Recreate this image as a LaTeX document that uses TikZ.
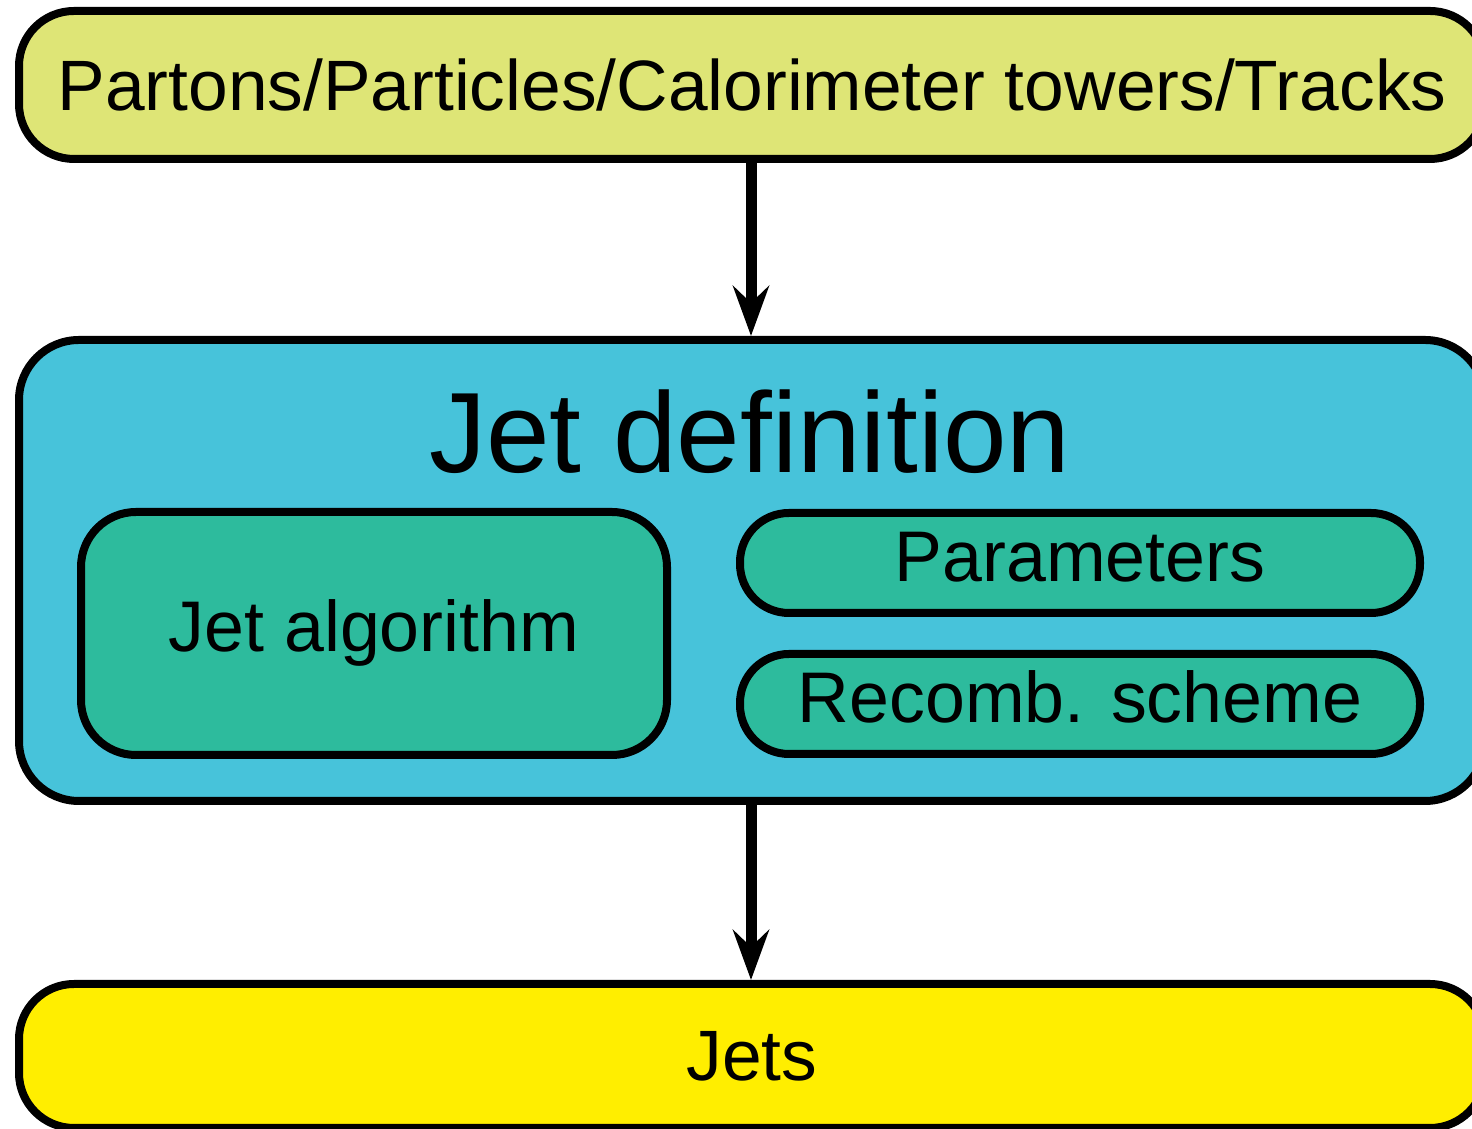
\documentclass[tikz,border=0pt]{standalone}
\usepackage{fontspec}
\setmainfont{Liberation Sans}
\usetikzlibrary{arrows.meta,positioning}
\definecolor{jetlime}{HTML}{DEE576}
\definecolor{jetcyan}{HTML}{47C3DA}
\definecolor{jetteal}{HTML}{2DBB9D}
\definecolor{jetyellow}{HTML}{FFEE00}
\tikzset{
  jet stage/.style={
    rounded corners=5.5mm,
    draw=black,
    line width=0.08cm,
    align=center,
    inner sep=0pt,
    minimum width=14.66cm,
    font=\fontsize{20.3pt}{24pt}\selectfont,
  },
  jet part/.style={
    rounded corners=5.5mm,
    draw=black,
    line width=0.08cm,
    fill=jetteal,
    align=center,
    inner sep=0pt,
    text height=0.52cm,
    text depth=0.15cm,
    font=\fontsize{20.4pt}{24pt}\selectfont,
  },
  jet pill/.style={
    jet part,
    rounded corners=4.9mm,
    minimum width=6.8cm,
    minimum height=1.0cm,
  },
  jet flow/.style={-{Stealth[length=0.5cm, width=0.36cm, inset=0.17cm]}, line width=0.11cm, draw=black},
}
\begin{document}
\begin{tikzpicture}
  \useasboundingbox (0,0) rectangle (14.72cm,11.29cm);
  \clip (0,0) rectangle (14.72cm,11.29cm);

  % --- Input objects ---
  \node[jet stage, fill=jetlime, minimum height=1.48cm]
    (input) at (7.52cm, 10.44cm) {Partons/Particles/Calorimeter towers/Tracks};

  % --- Jet definition container ---
  \node[jet stage, fill=jetcyan, rounded corners=6mm, minimum height=4.61cm]
    (jetdef) at (7.52cm, 5.585cm) {};
  \node[anchor=base, inner sep=0pt, font=\fontsize{32.5pt}{38pt}\selectfont]
    (jetdeftitle) at (7.50cm, 6.56cm) {Jet definition};

  % --- Its three ingredients ---
  \node[jet part, minimum width=5.86cm, minimum height=2.43cm]
    (algo) at (3.74cm, 4.955cm) {Jet algorithm};
  \node[jet pill] (params) at (10.80cm, 5.66cm) {Parameters};
  \node[jet pill, below=0.33cm of params] (recomb) {Recomb. scheme};

  % --- Output ---
  \node[jet stage, fill=jetyellow, minimum height=1.44cm]
    (jets) at (7.52cm, 0.73cm) {Jets};

  % --- Flow through the jet definition ---
  \draw[jet flow] (input.south -| 7.51cm,0) -- (jetdef.north -| 7.51cm,0);
  \draw[jet flow] (jetdef.south -| 7.51cm,0) -- (jets.north -| 7.51cm,0);

\end{tikzpicture}
\end{document}
